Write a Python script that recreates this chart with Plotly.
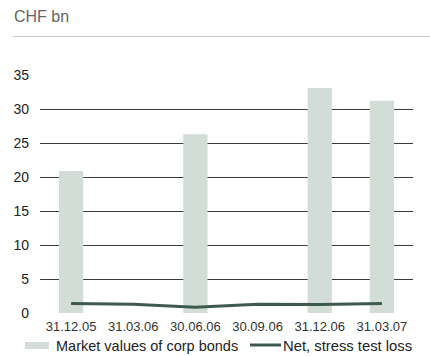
import plotly.graph_objects as go

categories = ["31.12.05", "31.03.06", "30.06.06", "30.09.06", "31.12.06", "31.03.07"]
bond_values = [20.9, None, 26.3, None, 33.1, 31.2]
stress_loss = [1.4, 1.27, 0.85, 1.3, 1.25, 1.4]
bond_name = "Market values of corp bonds"
loss_name = "Net, stress test loss"
y_ticks = [0, 5, 10, 15, 20, 25, 30, 35]

BAR_COLOR = "#d2ddd7"
LINE_COLOR = "#3e5a4f"
FONT = "Liberation Sans, Arial, sans-serif"

fig = go.Figure()
fig.add_trace(go.Bar(x=categories, y=bond_values, name=bond_name,
                     marker=dict(color=BAR_COLOR, line=dict(width=0)),
                     width=0.39, showlegend=False))
fig.add_trace(go.Scatter(x=categories, y=stress_loss, name=loss_name, mode="lines",
                         line=dict(color=LINE_COLOR, width=3), showlegend=False))

W, H = 430, 356
L, R, T, B = 40, 17, 75, 43

def px_x(p):
    return (p - L) / (W - L - R)

def px_y(p):
    return (H - B - p) / (H - T - B)

fig.update_layout(
    width=W, height=H,
    margin=dict(l=L, r=R, t=T, b=B),
    paper_bgcolor="white", plot_bgcolor="white",
    font=dict(family=FONT, size=13, color="#222"),
    bargap=0.61,
    xaxis=dict(type="category", range=[-0.5, 5.5], showgrid=False, showline=False,
               ticks="", tickfont=dict(size=13, color="#333"), zeroline=False,
               ticklabelstandoff=4),
    yaxis=dict(range=[0, 35], tickvals=y_ticks, showgrid=True, gridcolor="#3a3a3a",
               gridwidth=1, zeroline=False, showline=False, ticks="",
               tickfont=dict(size=14, color="#222"), ticklabelstandoff=10),
    shapes=[
        dict(type="line", xref="paper", yref="paper", x0=px_x(13), x1=px_x(430),
             y0=px_y(36.5), y1=px_y(36.5), line=dict(color="#c3ccc8", width=1.2)),
        dict(type="rect", xref="paper", yref="paper", x0=px_x(25), x1=px_x(49),
             y0=px_y(349), y1=px_y(342), fillcolor=BAR_COLOR, line=dict(width=0)),
        dict(type="line", xref="paper", yref="paper", x0=px_x(250), x1=px_x(281),
             y0=px_y(345), y1=px_y(345), line=dict(color=LINE_COLOR, width=3)),
    ],
    annotations=[
        dict(text="CHF bn", xref="paper", yref="paper", x=px_x(12), y=px_y(17),
             xanchor="left", yanchor="middle", showarrow=False,
             font=dict(size=16, color="#666")),
        dict(text=bond_name, xref="paper", yref="paper", x=px_x(54), y=px_y(345.5),
             xanchor="left", yanchor="middle", showarrow=False,
             font=dict(size=14.5, color="#222")),
        dict(text=loss_name, xref="paper", yref="paper", x=px_x(281), y=px_y(345.5),
             xanchor="left", yanchor="middle", showarrow=False,
             font=dict(size=14.8, color="#222")),
    ],
)

fig.write_html("out.html")
